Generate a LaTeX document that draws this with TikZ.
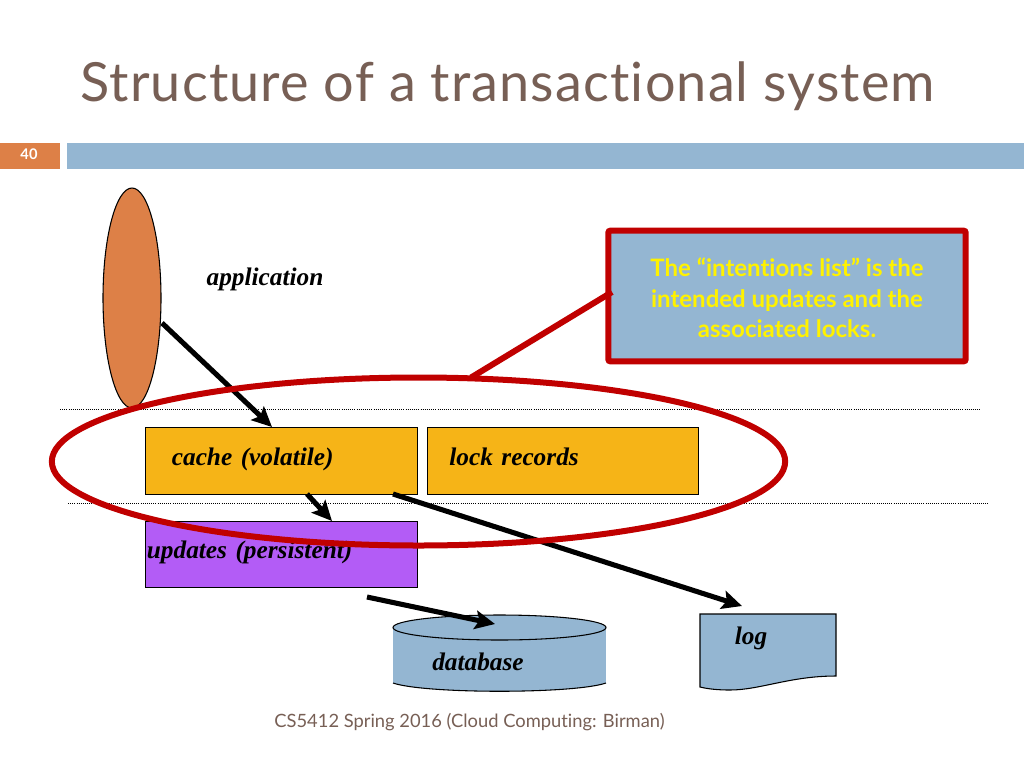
\documentclass[tikz,border=0pt]{standalone}
\usepackage{fontspec}
\usepackage{xcolor}
\setmainfont{Liberation Serif}
\newfontfamily\slidefont[Ligatures=NoCommon]{Lato}
\newfontfamily\titlefont[Ligatures=NoCommon,LetterSpace=2.1]{Lato}
\usetikzlibrary{shapes.geometric,arrows.meta}

\definecolor{titlebrown}{HTML}{775F55}
\definecolor{slideorange}{HTML}{DD8047}
\definecolor{slideblue}{HTML}{94B6D2}
\definecolor{ringred}{HTML}{C00000}
\definecolor{cacheamber}{HTML}{F6B417}
\definecolor{updatepurple}{HTML}{B35CF6}

\tikzset{
    bar/.style={inner sep=0pt, minimum height=19.5pt},
    dotline/.style={densely dotted, line width=0.6pt},
    flowarrow/.style={-{Stealth[length=15pt,width=14pt,inset=3pt]}, line width=3.8pt},
    boxnode/.style={
        draw,
        line width=0.8pt,
        minimum width=203.5pt,
        minimum height=50pt,
        inner ysep=0pt,
        inner xsep=#1,
        text width={203.5pt-2*#1},
        text height=13pt,
        text depth=6.5pt,
        align=left,
        font=\fontsize{19}{21}\selectfont\bfseries\itshape
    },
    lbl/.style={font=\fontsize{19}{21}\selectfont\bfseries\itshape, inner sep=0pt}
}

\begin{document}
\begin{tikzpicture}[x=0.75pt,y=-0.75pt]
                \useasboundingbox (0,0) rectangle (1024,768);

                % header
                \node[
                    anchor=west,
                    inner sep=0pt,
                    text=titlebrown,
                    font=\titlefont\fontsize{40.5}{46}\selectfont
                    ] (title) at (80,86) {Structure of a transactional system};

                \node[
                    bar,
                    fill=slideorange,
                    minimum width=45pt
                    ] (pagenum) at (30,156) {};
                \node[
                    inner sep=0pt,
                    text=white,
                    font=\slidefont\bfseries\fontsize{11}{12}\selectfont
                    ] (pagetext) at (29,154.5) {40};

                \node[
                    bar,
                    fill=slideblue,
                    minimum width=717.75pt
                    ] (headbar) at (545.5,156) {};

                % layers
                \node[
                    ellipse,
                    draw,
                    line width=0.8pt,
                    fill=slideorange,
                    inner sep=0pt,
                    minimum width=43.5pt,
                    minimum height=165pt
                    ] (app) at (132,298) {};

                \coordinate (dotA) at (60,409);
                \coordinate (dotB) at (980,409);
                \coordinate (dotC) at (68,503);
                \coordinate (dotD) at (988,503);
                \draw[dotline] (dotA) to (dotB);
                \draw[dotline] (dotC) to (dotD);

                \node[lbl] (applabel) at (265,279) {application};

                \node[boxnode=19.5pt, fill=cacheamber] (cache) at (281.5,461) {cache (volatile)};
                \node[boxnode=16.5pt, fill=cacheamber] (locks) at (563,461) {lock records};
                \node[boxnode=0.75pt, fill=updatepurple] (updates) at (281.5,554.5) {updates (persistent)};

                % database
                \draw[
                    fill=slideblue,
                    draw=none
                    ] (393,627) rectangle (606,683);
                \draw[
                    line width=0.8pt,
                    fill=slideblue
                    ] (393,683) .. controls (425,694) and (574,694) .. (606,683);
                \draw[
                    line width=0.8pt,
                    fill=slideblue
                    ] (499.5,627.5) ellipse [x radius=106.5, y radius=12.5];
                \node[lbl] (dblabel) at (478,662) {database};

                % log
                \draw[
                    line width=0.8pt,
                    fill=slideblue
                    ] (700,614) -- (836,614) -- (836,676)
                    .. controls (790,676) and (760,690) .. (730,690)
                    .. controls (718,690) and (708,689) .. (700,687) -- cycle;
                \node[lbl] (loglabel) at (751,638) {log};

                % arrows
                \coordinate (appout) at (162,323);
                \coordinate (cachein) at (272,427);
                \coordinate (cachedown) at (307,494);
                \coordinate (updatein) at (332,521);
                \coordinate (updateout) at (367,597);
                \coordinate (dbin) at (495,624);
                \coordinate (cacheout) at (393,494);
                \coordinate (login) at (742,606);

                \draw[flowarrow] (appout) to (cachein);
                \draw[flowarrow] (cachedown) to (updatein);
                \draw[flowarrow] (updateout) to (dbin);
                \draw[flowarrow] (cacheout) to (login);

                % intentions list
                \node[
                    ellipse,
                    draw=ringred,
                    line width=4.5pt,
                    inner sep=0pt,
                    minimum width=550pt,
                    minimum height=126pt
                    ] (ring) at (418.5,461.5) {};

                \node[
                    draw=ringred,
                    fill=slideblue,
                    line width=4.5pt,
                    rounded corners=1.5pt,
                    minimum width=268pt,
                    minimum height=98pt,
                    inner sep=0pt
                    ] (callout) at (787,296) {};
                \node[
                    inner sep=0pt,
                    align=center,
                    text=yellow,
                    font=\slidefont\bfseries\fontsize{18}{23}\selectfont
                    ] (callouttext) at (787,298) {The “intentions list” is the\\intended updates and the\\associated locks.};

                \coordinate (calloutfoot) at (612,292);
                \draw[
                    draw=ringred,
                    line width=4.5pt,
                    shorten >=-3pt
                    ] (calloutfoot) to (ring.57);

                \node[
                    inner sep=0pt,
                    text=titlebrown,
                    font=\slidefont\fontsize{13.75}{16}\selectfont
                    ] (footer) at (469.5,722) {CS5412 Spring 2016 (Cloud Computing: Birman)};
            \end{tikzpicture}
\end{document}
